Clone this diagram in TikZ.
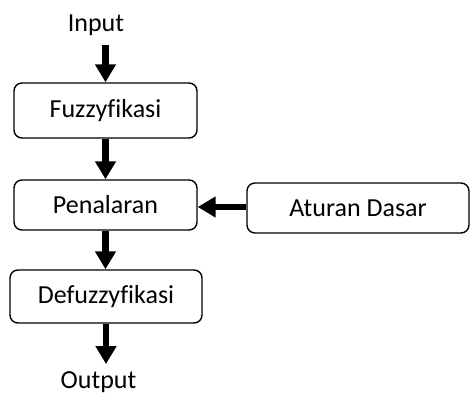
\documentclass[tikz,border=0pt]{standalone}
\usepackage{fontspec}
\setmainfont{Carlito}[Ligatures=NoCommon]
\usetikzlibrary{arrows.meta}
\begin{document}
\begin{tikzpicture}[x=0.5pt,y=-0.5pt,
  kotak/.style={draw,rounded corners=4pt,line width=0.7pt,inner sep=0pt},
  panah/.style={line width=3.3pt,-{Triangle[length=9pt,width=10pt]}},
  font=\fontsize{13}{15}\selectfont]
\useasboundingbox (0,0) rectangle (470,394);
\node[anchor=base] at (96,32) (input) {Input};
\node[kotak,minimum width=91.5pt,minimum height=27.5pt] at (105.5,110.5) (fuzz) {Fuzzyfikasi};
\node[kotak,minimum width=91.5pt,minimum height=25pt] at (105.5,205) (nalar) {Penalaran};
\node[kotak,minimum width=96pt,minimum height=26.5pt] at (106,296.5) (defuzz) {Defuzzyfikasi};
\node[kotak,minimum width=111pt,minimum height=25pt] at (358,208) (aturan) {Aturan Dasar};
\node[anchor=base] at (98.5,388) (output) {Output};
\draw[panah] (input.south -| fuzz.north) ++(0,2) coordinate (i1) (i1) -- (fuzz.north);
\draw[panah] (fuzz.south) -- (fuzz.south |- nalar.north);
\draw[panah] (nalar.south) -- (nalar.south |- defuzz.north);
\draw[panah] (defuzz.south) -- (defuzz.south |- output.north);
\draw[panah] (aturan.west) ++(0,-1) coordinate (a1) (a1) -- (a1 -| nalar.east);
\end{tikzpicture}
\end{document}
